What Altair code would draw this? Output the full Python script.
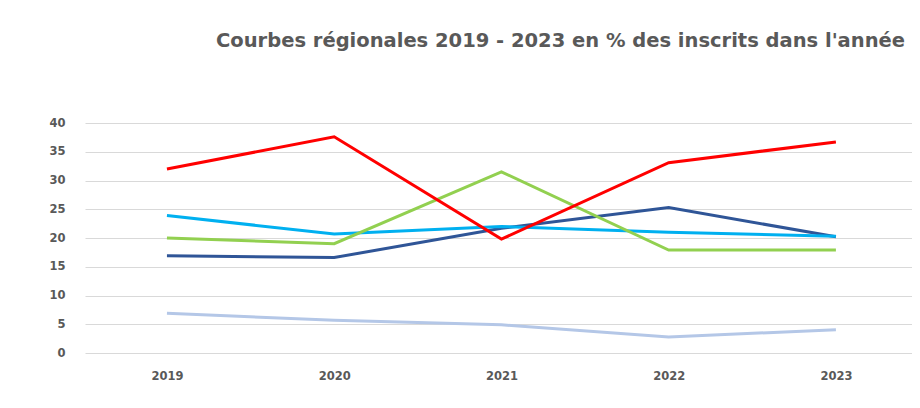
import altair as alt
import pandas as pd

years = [2019, 2020, 2021, 2022, 2023]
series_names = ["Série 1", "Série 2", "Série 3", "Série 4", "Série 5"]
s_pale = [6.9, 5.7, 4.9, 2.8, 4.05]
s_dark = [16.9, 16.6, 21.7, 25.3, 20.2]
s_cyan = [23.9, 20.7, 22.0, 21.0, 20.3]
s_green = [20.0, 19.0, 31.5, 17.9, 17.9]
s_red = [32.0, 37.6, 19.8, 33.1, 36.7]
colors = ["#B4C7E7", "#2F5597", "#00B0F0", "#92D050", "#FF0000"]
y_ticks = [0, 5, 10, 15, 20, 25, 30, 35, 40]
x_domain = [2018.51, 2023.455]

all_series = [s_pale, s_dark, s_cyan, s_green, s_red]
rows = []
for order, (name, vals) in enumerate(zip(series_names, all_series)):
    for yr, v in zip(years, vals):
        rows.append({"annee": yr, "valeur": v, "serie": name, "ordre": order})
df = pd.DataFrame(rows)

label_font = "DejaVu Sans"

chart = alt.Chart(df).mark_line(strokeWidth=3, strokeCap="butt", strokeJoin="miter").encode(
    x=alt.X("annee:Q",
            scale=alt.Scale(domain=x_domain, nice=False, zero=False),
            axis=alt.Axis(values=years, format="d", title=None, grid=False, domain=False,
                          ticks=False, labelPadding=17, labelFontSize=11.5, labelFontWeight="bold",
                          labelColor="#595959", labelFont=label_font, labelFlush=False)),
    y=alt.Y("valeur:Q",
            scale=alt.Scale(domain=[0, 40], nice=False),
            axis=alt.Axis(values=y_ticks, title=None, domain=False, ticks=False,
                          gridColor="#D9D9D9", gridWidth=1, labelPadding=20,
                          labelFontSize=11.5, labelFontWeight="bold", labelColor="#595959",
                          labelFont=label_font)),
    color=alt.Color("serie:N", scale=alt.Scale(domain=series_names, range=colors), legend=None),
    order=alt.Order("ordre:Q"),
    detail="serie:N",
).properties(
    width=827,
    height=230,
    autosize=alt.AutoSizeParams(type="none"),
    padding={"left": 77, "top": 115, "right": 0, "bottom": 40},
    background="white",
    title=alt.TitleParams(
        text="Courbes régionales 2019 - 2023 en % des inscrits dans l'année",
        anchor="start", frame="group", dx=131, offset=66, fontSize=19.5, fontWeight="bold",
        color="#595959", font="DejaVu Sans",
    ),
).configure_view(stroke=None)

chart.save("out.html", embed_options={"renderer": "svg", "actions": False})
